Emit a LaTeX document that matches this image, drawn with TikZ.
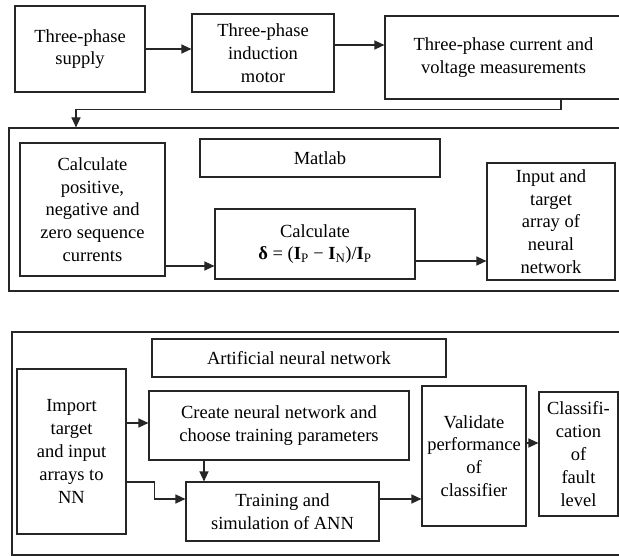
\documentclass[tikz,border=0pt]{standalone}
\usepackage{fontspec}
\setmainfont{Liberation Serif}
\usetikzlibrary{arrows.meta}
\begin{document}
\begin{tikzpicture}[x=1pt,y=-1pt,
  blk/.style={draw=black!85,line width=1.1pt,inner sep=0pt,align=center,
     font=\fontsize{18.5}{22.8}\selectfont},
  arr/.style={draw=black!85,line width=1.1pt,-{Triangle[length=10pt,width=9pt]}},
  ln/.style={draw=black!85,line width=1.1pt}]
\useasboundingbox[fill=white] (0,0) rectangle (619,556);
% top row
\node[blk,minimum width=130,minimum height=86] (A) at (80,49) {Three-phase\\supply};
\node[blk,minimum width=142,minimum height=78] (B) at (263,53) {Three-phase\\induction\\motor};
\node[blk,minimum width=237,minimum height=83] (C) at (503.5,57.5) {Three-phase current and\\voltage measurements};
\draw[arr] (A.east |- {(0,49)}) -- (B.west |- {(0,49)});
\draw[arr] (B.east |- {(0,45)}) -- (C.west |- {(0,45)});
% Matlab section
\node[blk,minimum width=616,minimum height=163] (M) at (317,209.5) {};
\node[blk,minimum width=145,minimum height=133] (P) at (92.5,209.5) {Calculate\\positive,\\negative and\\zero sequence\\currents};
\node[blk,minimum width=240,minimum height=38] (L) at (320,158) {Matlab};
\node[blk,minimum width=200,minimum height=70] (D) at (315,244) {Calculate\\{\bfseries δ} = ({\bfseries I}\textsubscript{P} − {\bfseries I}\textsubscript{N})/{\bfseries I}\textsubscript{P}};
\node[blk,minimum width=128,minimum height=117] (I) at (551,221.5) {Input and\\target\\array of\\neural\\network};
\draw[arr] (C.south -| {(561,0)}) -- ++(0,10) -| (M.north -| {(76,0)});
\draw[arr] (P.east |- {(0,266)}) -- (D.west |- {(0,266)});
\draw[arr] (D.east |- {(0,261)}) -- (I.west |- {(0,261)});
% ANN section
\node[blk,minimum width=613,minimum height=223] (N) at (318.5,443.5) {};
\node[blk,minimum width=294,minimum height=38] (NL) at (299,358) {Artificial neural network};
\node[blk,minimum width=109,minimum height=165] (Im) at (71.5,451.5) {Import\\target\\and input\\arrays to\\NN};
\node[blk,minimum width=260,minimum height=69] (Cr) at (279,425.5) {Create neural network and\\choose training parameters};
\node[blk,minimum width=193,minimum height=59] (T) at (282.5,511.5) {Training and\\simulation of ANN};
\node[blk,minimum width=104,minimum height=140] (V) at (474,456) {Validate\\performance\\of\\classifier};
\node[blk,minimum width=79,minimum height=124] (K) at (578.5,454) {Classifi-\\cation\\of\\fault\\level};
\draw[arr] (Im.east |- {(0,423)}) -- (Cr.west |- {(0,423)});
\draw[arr] (Cr.south -| {(204,0)}) -- (T.north -| {(204,0)});
\draw[arr] (Im.east |- {(0,482)}) -- ++(28,0) |- (T.west |- {(0,499)});
\draw[arr] (T.east |- {(0,499)}) -- (V.west |- {(0,499)});
\draw[arr] (V.east |- {(0,443)}) -- (K.west |- {(0,443)});
\end{tikzpicture}
\end{document}
